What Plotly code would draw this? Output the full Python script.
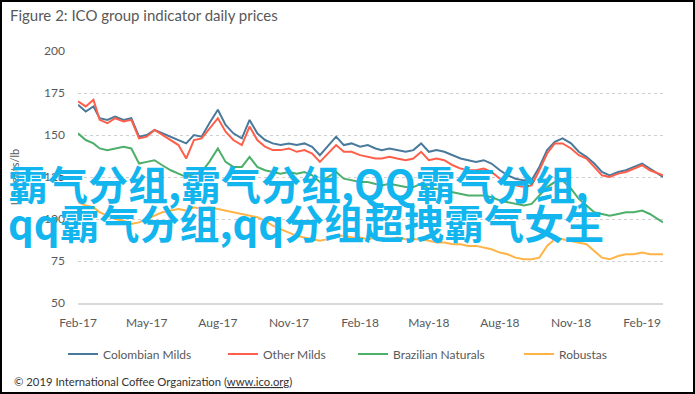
import plotly.graph_objects as go

# Dates: 1st, 11th, 21st of each month Feb-2017 .. Feb-2019, plus month end
months = [(2017, m) for m in range(2, 13)] + [(2018, m) for m in range(1, 13)] + [(2019, m) for m in range(1, 3)]
dates = [f"{y}-{m:02d}-{d:02d}" for (y, m) in months for d in (1, 11, 21)] + ["2019-02-28"]

colombian_milds = [
    168, 164, 167, 160, 159, 161, 159, 160, 149, 150, 153, 151,
    149, 147, 145, 150, 149, 157, 165, 156, 151, 148, 159, 151,
    147, 145, 144, 145, 144, 145, 143, 138, 143, 149, 144, 145,
    143, 144, 142, 141, 142, 141, 140, 141, 145, 140, 141, 140,
    138, 136, 135, 134, 135, 133, 129, 126, 124, 123, 123, 131,
    141, 146, 148, 145, 140, 137, 133, 128, 126, 128, 129, 131,
    133, 130, 127, 125,
]
other_milds = [
    170, 167, 171, 159, 157, 160, 158, 159, 148, 149, 153, 150,
    147, 144, 136, 147, 148, 154, 160, 152, 147, 144, 155, 147,
    143, 141, 141, 142, 140, 141, 139, 134, 139, 144, 140, 140,
    138, 137, 136, 136, 137, 136, 135, 136, 140, 135, 136, 135,
    132, 130, 129, 129, 130, 128, 124, 121, 120, 119, 120, 129,
    139, 145, 145, 142, 138, 136, 131, 126, 125, 127, 128, 130,
    132, 129, 127, 126,
]
brazilian_naturals = [
    151, 147, 145, 142, 141, 142, 143, 142, 133, 134, 135, 132,
    129, 127, 125, 127, 128, 134, 142, 134, 131, 131, 137, 131,
    129, 128, 127, 128, 127, 128, 126, 122, 125, 128, 124, 123,
    122, 122, 121, 120, 121, 120, 119, 119, 121, 118, 118, 117,
    116, 115, 114, 114, 114, 113, 111, 110, 109, 108, 109, 114,
    119, 122, 123, 118, 112, 108, 104, 103, 102, 103, 104, 104,
    105, 103, 100, 98,
]
robustas = [
    110, 108, 107, 104, 102, 100, 99, 97, 98, 100, 102, 104,
    105, 106, 105, 107, 106, 107, 106, 105, 104, 103, 102, 101,
    99, 96, 94, 92, 90, 89, 88, 87, 88, 90, 90, 89,
    89, 88, 89, 88, 88, 89, 88, 88, 88, 87, 86, 86,
    85, 85, 84, 84, 83, 82, 80, 79, 77, 76, 76, 77,
    84, 88, 88, 87, 86, 85, 81, 77, 76, 78, 79, 79,
    80, 79, 79, 79,
]

series_names = ["Colombian Milds", "Other Milds", "Brazilian Naturals", "Robustas"]
series_colors = ["#4a7a9b", "#ff5f4a", "#4caf6a", "#ffb445"]
series_values = [colombian_milds, other_milds, brazilian_naturals, robustas]

tick_vals = ["2017-02-01", "2017-05-01", "2017-08-01", "2017-11-01", "2018-02-01",
             "2018-05-01", "2018-08-01", "2018-11-01", "2019-02-01"]
tick_text = ["Feb-17", "May-17", "Aug-17", "Nov-17", "Feb-18",
             "May-18", "Aug-18", "Nov-18", "Feb-19"]
y_ticks = [50, 75, 100, 125, 150, 175, 200]

W, H = 695, 394
L, R, T, B = 78, 32, 51, 91
PW, PH = W - L - R, H - T - B

def px(x):
    return (x - L) / PW

def py(y):
    return (H - B - y) / PH

legend_ids = ["legend", "legend2", "legend3", "legend4"]
legend_text_x = [105, 265, 395, 561]

fig = go.Figure()
for name, color, vals, lid in zip(series_names, series_colors, series_values, legend_ids):
    fig.add_trace(go.Scatter(x=dates, y=vals, mode="lines", name=name, legend=lid,
                             line=dict(color=color, width=2)))

grey = "#595959"
legend_layouts = {}
for lid, tx in zip(legend_ids, legend_text_x):
    legend_layouts[lid] = dict(orientation="h", x=px(tx - 42), xanchor="left",
                               y=py(354), yanchor="middle", bgcolor="rgba(0,0,0,0)",
                               font=dict(size=12, color=grey))

fig.update_layout(
    width=W, height=H,
    margin=dict(l=L, r=R, t=T, b=B, autoexpand=False),
    paper_bgcolor="white", plot_bgcolor="white",
    font=dict(family="Lato, sans-serif", color=grey, size=12),
    showlegend=True,
    **legend_layouts,
    xaxis=dict(type="date", range=["2017-02-01", "2019-02-28"],
               tickvals=tick_vals, ticktext=tick_text, showgrid=False,
               showline=True, linecolor="#d9d9d9", linewidth=2,
               ticks="", ticklabelstandoff=8, tickfont=dict(size=12, color=grey)),
    yaxis=dict(range=[50, 200], tickvals=y_ticks, showgrid=True,
               gridcolor="#d0d0d0", griddash="dot", gridwidth=1, zeroline=False,
               ticks="", ticklabelstandoff=12, tickfont=dict(size=12, color=grey),
               title=dict(text="US cents/lb", font=dict(size=11, color=grey), standoff=22)),
)

# outer border
fig.add_shape(type="rect", xref="paper", yref="paper",
              x0=px(1), x1=px(694), y0=py(1), y1=py(393),
              line=dict(color="black", width=2), layer="below")

# title
fig.add_annotation(text="Figure 2: ICO group indicator daily prices", xref="paper", yref="paper",
                   x=px(8), y=py(15), xanchor="left", yanchor="middle", showarrow=False,
                   font=dict(size=15, color=grey, family="Lato, sans-serif"))

# footer
fig.add_annotation(text="© 2019 International Coffee Organization (<u>www.ico.org</u>)",
                   xref="paper", yref="paper", x=px(12), y=py(381),
                   xanchor="left", yanchor="middle", showarrow=False,
                   font=dict(size=11.3, color="#333333", family="Lato, sans-serif"))

# overlay watermark text
wm_font = dict(size=40, color="#12b5ee", family="Noto Sans CJK SC, sans-serif", weight="bold")
fig.add_annotation(text="霸气分组,霸气分组,QQ霸气分组,", xref="paper", yref="paper",
                   x=px(6), y=py(183), xanchor="left", yanchor="middle", showarrow=False,
                   font=wm_font)
fig.add_annotation(text="qq霸气分组,qq分组超拽霸气女生", xref="paper", yref="paper",
                   x=px(6), y=py(222), xanchor="left", yanchor="middle", showarrow=False,
                   font=wm_font)

fig.write_html("out.html", config={"displayModeBar": False},
               post_script="document.body.style.margin='0';")
